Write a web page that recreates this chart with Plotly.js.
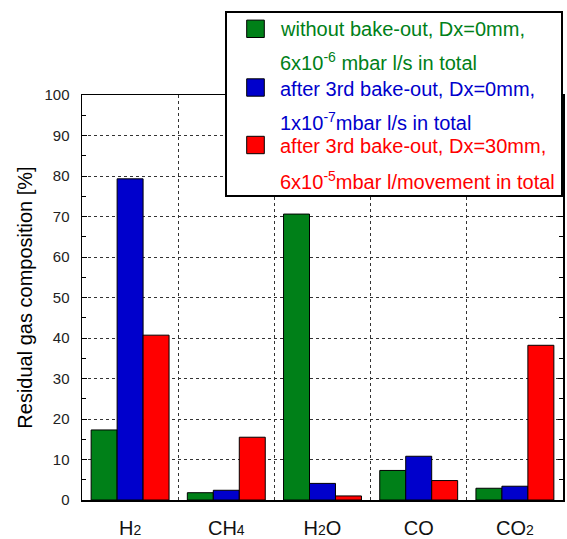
<!DOCTYPE html>
<html><head><meta charset="utf-8">
<script src="https://cdn.plot.ly/plotly-3.0.1.min.js"></script>
<style>html,body{margin:0;padding:0;background:#fff}</style>
</head><body><div id="chart" style="width:567px;height:539px"></div>
<script>
const gases = ['H2', 'CH4', 'H2O', 'CO', 'CO2'];
const tickLabels = [
  'H<span style="font-size:14px">2</span>',
  'CH<span style="font-size:14px">4</span>',
  'H<span style="font-size:14px">2</span>O',
  'CO',
  'CO<span style="font-size:14px">2</span>'
];
const withoutBakeout = [17.3, 1.8, 70.6, 7.3, 2.9];
const after3rdDx0 = [79.3, 2.4, 4.1, 10.8, 3.4];
const after3rdDx30 = [40.7, 15.5, 1.0, 4.8, 38.2];
const seriesNames = ['without bake-out, Dx=0mm', 'after 3rd bake-out, Dx=0mm', 'after 3rd bake-out, Dx=30mm'];
const legendLine1 = ['without bake-out, Dx=0mm,', 'after 3rd bake-out, Dx=0mm,', 'after 3rd bake-out, Dx=30mm,'];
const legendLine2 = ['6x10<sup>-6</sup> mbar l/s in total', '1x10<sup>-7</sup>mbar l/s in total', '6x10<sup>-5</sup>mbar l/movement in total'];
const yTitle = 'Residual gas composition [%]';

const colors = ['#008018', '#0000cc', '#ff0000'];
const FONT = '"Liberation Sans", Arial, Helvetica, sans-serif';

// plot-area geometry (pixels)
const L = 82, R = 563, T = 95, B = 500;
const W = 567, H = 539;
const px = x => (x - L) / (R - L);
const py = y => (B - y) / (B - T);

const series = [withoutBakeout, after3rdDx0, after3rdDx30];
const traces = series.map((vals, i) => ({
  type: 'bar', x: gases, y: vals, name: seriesNames[i],
  marker: {color: colors[i], line: {color: '#000', width: 1}},
  hoverinfo: 'x+y'
}));

const shapes = [{
  type: 'rect', xref: 'paper', yref: 'paper', layer: 'above',
  x0: px(226), x1: px(562), y0: py(196), y1: py(12),
  fillcolor: '#fff', line: {color: '#000', width: 2}
}];
const annotations = [];
const squareY = [28.8, 87.5, 145];
const line1Y = [29, 89, 146.3];
const line2Y = [61.7, 121.7, 180];
for (let i = 0; i < 3; i++) {
  shapes.push({
    type: 'rect', xref: 'paper', yref: 'paper', layer: 'above',
    x0: px(246.7), x1: px(264.3), y0: py(squareY[i] + 8.7), y1: py(squareY[i] - 8.7),
    fillcolor: colors[i], line: {color: '#000', width: 1}
  });
  annotations.push({
    xref: 'paper', yref: 'paper', x: px(277.7), y: py(line1Y[i]),
    xanchor: 'left', yanchor: 'middle', showarrow: false,
    text: legendLine1[i], font: {family: FONT, size: 20, color: colors[i]}
  });
  annotations.push({
    xref: 'paper', yref: 'paper', x: px(277.7), y: py(line2Y[i]),
    xanchor: 'left', yanchor: 'middle', showarrow: false,
    text: legendLine2[i], font: {family: FONT, size: 20, color: colors[i]}
  });
}

const layout = {
  width: W, height: H,
  margin: {l: L, r: W - R, t: T, b: H - B, pad: 0},
  paper_bgcolor: '#fff', plot_bgcolor: '#fff',
  font: {family: FONT, color: '#000'},
  showlegend: false,
  barmode: 'group', bargap: 0.19, bargroupgap: 0,
  xaxis: {
    type: 'category', tickmode: 'array', tickvals: gases, ticktext: tickLabels,
    tickson: 'boundaries', ticks: '', showgrid: true,
    gridcolor: '#333', griddash: 'dot', gridwidth: 1,
    showline: true, linecolor: '#000', linewidth: 1.5, mirror: true,
    tickfont: {family: FONT, size: 20, color: '#111'},
    ticklabelstandoff: 9, zeroline: false, fixedrange: true
  },
  yaxis: {
    range: [0, 100], dtick: 10, tick0: 0,
    ticks: 'inside', ticklen: 5, tickcolor: '#000', tickwidth: 1,
    minor: {dtick: 5, ticks: 'inside', ticklen: 4, tickcolor: '#000', showgrid: false},
    showgrid: true, gridcolor: '#333', griddash: 'dot', gridwidth: 1,
    showline: true, linecolor: '#000', linewidth: 1.5, mirror: 'allticks',
    tickfont: {family: FONT, size: 15, color: '#222'},
    ticklabelstandoff: 8, zeroline: false, fixedrange: true,
    title: {text: yTitle, font: {family: FONT, size: 20, color: '#000'}, standoff: 6}
  },
  shapes: shapes,
  annotations: annotations
};

Plotly.newPlot('chart', traces, layout, {displayModeBar: false, staticPlot: true});
</script></body></html>
